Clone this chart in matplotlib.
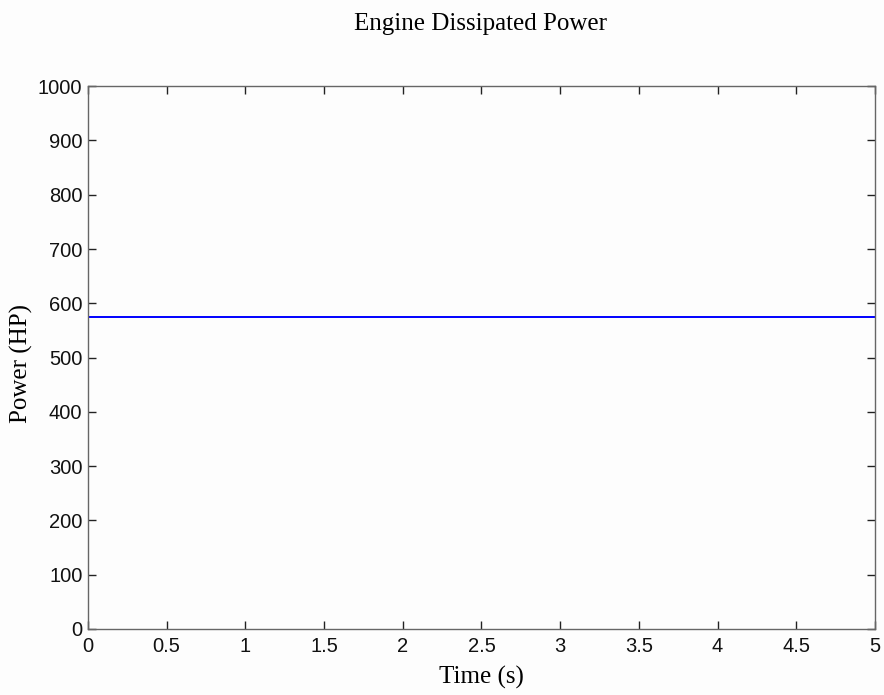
import matplotlib
matplotlib.use("Agg")
import matplotlib.pyplot as plt

time_s = [0, 5]
power_hp = [575, 575]
x_ticks = [0, 0.5, 1, 1.5, 2, 2.5, 3, 3.5, 4, 4.5, 5]
x_tick_labels = ["0", "0.5", "1", "1.5", "2", "2.5", "3", "3.5", "4", "4.5", "5"]
y_ticks = [0, 100, 200, 300, 400, 500, 600, 700, 800, 900, 1000]

fig = plt.figure(figsize=(8.84, 6.95), dpi=100, facecolor="#fdfdfd")
ax = fig.add_axes([0.0995, 0.095, 0.8903, 0.781])
ax.set_facecolor("#fdfdfd")
ax.plot(time_s, power_hp, color="#0000ff", linewidth=1.4)
ax.set_xlim(0, 5)
ax.set_ylim(0, 1000)
ax.set_xticks(x_ticks)
ax.set_xticklabels(x_tick_labels)
ax.set_yticks(y_ticks)
for s in ax.spines.values():
    s.set_color("#666666")
    s.set_linewidth(1.0)
ax.tick_params(direction="in", length=6, width=1, color="#222222",
               top=True, right=True, labelsize=14.5, labelcolor="#111111")
ax.tick_params(axis="x", pad=6)
ax.tick_params(axis="y", pad=4)
for lab in ax.get_xticklabels() + ax.get_yticklabels():
    lab.set_fontfamily("Liberation Sans")
serif = "Liberation Serif"
ax.set_xlabel("Time (s)", fontfamily=serif, fontsize=18, va="center")
ax.xaxis.set_label_coords(0.5, -0.0884)
ax.set_ylabel("Power (HP)", fontfamily=serif, fontsize=18, va="center")
ax.yaxis.set_label_coords(-0.0839, 0.49)
fig.text(0.543, 0.966, "Engine Dissipated Power", fontfamily=serif, fontsize=18,
         ha="center", va="center")
fig.savefig("out.png", dpi=100, facecolor=fig.get_facecolor())
